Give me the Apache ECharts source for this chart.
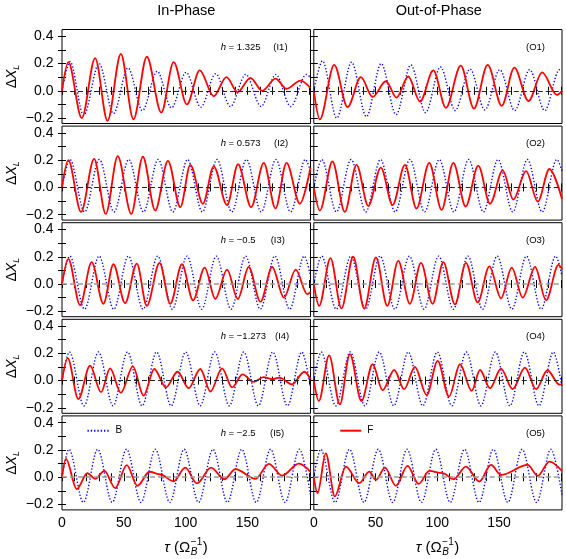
<!DOCTYPE html>
<html>
<head>
<meta charset="utf-8">
<script src="https://cdn.jsdelivr.net/npm/echarts@6/dist/echarts.min.js"></script>
<style>html,body{margin:0;padding:0;background:#fff}#c{width:566px;height:559px}</style>
</head>
<body>
<div id="c"></div>
<script>
// ---------------- data ----------------
const columnTitles = ['In-Phase', 'Out-of-Phase'];
const hLabels = ['1.325', '0.573', '\u22120.5', '\u22121.273', '\u22122.5'];
const inTags = ['(I1)', '(I2)', '(I3)', '(I4)', '(I5)'];
const outTags = ['(O1)', '(O2)', '(O3)', '(O4)', '(O5)'];
const xTickLabels = [0, 50, 100, 150];
const xMinorTicks = [0, 10, 20, 30, 40, 50, 60, 70, 80, 90, 100, 110, 120, 130, 140, 150, 160, 170, 180, 190, 200];
const yTickLabels = [-0.2, 0, 0.2, 0.4];
const yMinorTicks = [-0.2, -0.1, 0, 0.1, 0.2, 0.3, 0.4];

// B (blue, dotted) curves: extrema [tau, dX]
const blueI1 = [[0,0],[6.5,0.215],[17.5,-0.18],[30,0.2],[41.6,-0.167],[53.4,0.168],[65,-0.145],[77,0.143],[88.5,-0.125],[100.4,0.135],[112.2,-0.12],[124.3,0.125],[136.2,-0.115],[148.6,0.12],[161,-0.115],[173,0.12],[185,-0.115],[197.6,0.12],[201,0.1]];
const blueO1 = [[0,0],[7,0.22],[18.6,-0.2],[30.6,0.21],[42.6,-0.19],[54.6,0.2],[66.6,-0.175],[78.6,0.19],[90.5,-0.16],[102.6,0.175],[114.5,-0.145],[126.5,0.16],[138.5,-0.14],[150.6,0.155],[162.7,-0.145],[174.8,0.155],[187,-0.145],[199,0.155],[201,0.15]];
const blueRow2 = [[0,0],[6.4,0.205],[18.3,-0.18],[30.2,0.205],[42.1,-0.18],[54,0.205],[65.9,-0.18],[77.8,0.205],[89.7,-0.18],[101.6,0.205],[113.5,-0.18],[125.4,0.205],[137.3,-0.18],[149.2,0.205],[161.1,-0.18],[173,0.205],[184.9,-0.18],[196.8,0.205],[201,0.12]];
const blueRow3 = [[0,0],[6.3,0.205],[18.2,-0.185],[30,0.205],[41.9,-0.185],[53.7,0.205],[65.6,-0.185],[77.4,0.205],[89.3,-0.185],[101.1,0.205],[113,-0.185],[124.8,0.205],[136.7,-0.185],[148.5,0.205],[160.4,-0.185],[172.2,0.205],[184.1,-0.185],[195.9,0.205],[201,0.06]];
const blueRow4 = [[0,0],[6,0.21],[17.8,-0.185],[29.5,0.21],[41.3,-0.185],[53,0.21],[64.8,-0.185],[76.5,0.21],[88.3,-0.185],[100,0.21],[111.8,-0.185],[123.5,0.21],[135.3,-0.185],[147,0.21],[158.8,-0.185],[170.5,0.21],[182.3,-0.185],[194,0.21],[201,-0.05]];
const blueRow5 = [[0,0],[5.6,0.205],[17.3,-0.185],[28.9,0.205],[40.6,-0.185],[52.2,0.205],[63.9,-0.185],[75.5,0.205],[87.2,-0.185],[98.8,0.205],[110.5,-0.185],[122.1,0.205],[133.8,-0.185],[145.4,0.205],[157.1,-0.185],[168.7,0.205],[180.4,-0.185],[192,0.205],[201,-0.13]];

// F (red, solid) curves
const redI1 = [[0,0],[5.1,0.21],[16,-0.2],[26.8,0.24],[36.8,-0.22],[47.6,0.27],[57.8,-0.21],[68.6,0.25],[80.3,-0.16],[90.3,0.21],[101,-0.1],[111.4,0.15],[122.7,-0.04],[133,0.1],[142,-0.01],[152.4,0.095],[161.9,0.0],[172.7,0.09],[181.6,0.015],[193,0.075],[201,0.02]];
const redO1 = [[0,0],[4.9,-0.21],[16.5,0.19],[27.3,-0.12],[38.1,0.1],[47.6,-0.045],[58.4,0.07],[67,-0.05],[76.5,0.105],[86,-0.08],[96.8,0.15],[107,-0.125],[119,0.185],[129.7,-0.13],[140.8,0.19],[152.2,-0.11],[162.4,0.17],[173.8,-0.075],[184.9,0.135],[196.8,-0.03],[201,0.0]];
const redI2 = [[0,0],[5.1,0.2],[15.4,-0.18],[26,0.21],[35.4,-0.195],[45.1,0.23],[56,-0.195],[65.4,0.225],[75.4,-0.17],[85.7,0.195],[95.7,-0.145],[103.8,0.165],[114,-0.12],[122.7,0.155],[133.5,-0.13],[142.4,0.17],[153,-0.145],[163.2,0.18],[172.7,-0.155],[181.6,0.18],[192.4,-0.12],[201,0.145]];
const redO2 = [[0,0],[4.9,-0.17],[15.1,0.19],[25.1,-0.18],[34.6,0.165],[44.1,-0.135],[54.3,0.145],[63.8,-0.13],[73.8,0.165],[83.2,-0.155],[93.5,0.18],[103.5,-0.165],[113,0.18],[123,-0.14],[133.2,0.16],[142.7,-0.12],[153,0.125],[161.6,-0.09],[171.9,0.12],[181.4,-0.105],[190.8,0.135],[201,-0.085]];
const redI3 = [[0,0],[5.1,0.185],[14.6,-0.155],[24,0.16],[33.5,-0.145],[41.6,0.145],[51,-0.14],[60.5,0.15],[68.6,-0.16],[78.9,0.155],[87.6,-0.145],[97,0.145],[106,-0.12],[115.4,0.12],[124,-0.11],[133.5,0.105],[142.2,-0.11],[151,0.125],[160.5,-0.13],[170,0.125],[179.5,-0.1],[189,0.105],[198.4,-0.075],[201,-0.06]];
const redO3 = [[0,0],[4.3,-0.16],[13.5,0.19],[22.4,-0.18],[31.9,0.2],[40.8,-0.18],[50.3,0.195],[59.5,-0.16],[68.4,0.17],[77.8,-0.145],[86.8,0.155],[96.2,-0.145],[104.9,0.16],[114.3,-0.15],[123.2,0.155],[132.7,-0.135],[142.2,0.13],[151.6,-0.105],[160.3,0.12],[169.2,-0.1],[179.2,0.125],[188.1,-0.12],[198.1,0.14],[201,0.11]];
const redI4 = [[0,0],[4.6,0.165],[13.2,-0.135],[22.7,0.11],[31.6,-0.085],[38.9,0.09],[47.6,-0.09],[57.3,0.105],[66,-0.11],[74.6,0.085],[84,-0.05],[93.5,0.065],[102.4,-0.055],[111.9,0.085],[120,-0.08],[129.5,0.09],[137.6,-0.05],[146,0.045],[155,-0.01],[163,0.025],[170,0.01],[176,0.022],[186,-0.027],[196,0.065],[201,0.01]];
const redO4 = [[0,0],[4.1,-0.15],[12.4,0.185],[21.1,-0.175],[29.2,0.195],[38.6,-0.15],[47.6,0.12],[55.7,-0.07],[65.1,0.078],[73.2,-0.063],[81.9,0.1],[91.4,-0.107],[100.3,0.145],[109.5,-0.117],[118.4,0.12],[127.8,-0.076],[134.6,0.078],[142.7,-0.056],[151.6,0.088],[161,-0.063],[171,0.095],[180,-0.063],[189.2,0.076],[199,-0.03],[201,-0.025]];
const redI5 = [[0,0],[3.2,0.134],[11.9,-0.088],[20.5,0.03],[26.8,-0.012],[34.3,0.046],[43,-0.08],[52.4,0.088],[61,-0.063],[70.8,0.04],[79.5,0.02],[90.3,-0.03],[99.7,0.07],[109.2,-0.046],[120.5,0.07],[131.4,-0.015],[140.3,0.06],[156.5,-0.012],[167.3,0.098],[178,0.012],[191.6,0.1],[201,0.04]];
const redO5 = [[0,0],[3,-0.117],[9.7,0.175],[17,-0.14],[26,0.078],[36.8,-0.044],[44.9,0.041],[50.3,-0.02],[57.6,0.07],[66.5,-0.063],[75.9,0.083],[84.9,-0.049],[93.5,0.046],[104.3,0.03],[113.2,-0.015],[123.2,0.078],[134,-0.032],[143.5,0.09],[151.6,0.017],[173.2,0.09],[181.4,0.01],[190.8,0.115],[201,0.046]];

const panelBlue = [[blueI1, blueO1], [blueRow2, blueRow2], [blueRow3, blueRow3], [blueRow4, blueRow4], [blueRow5, blueRow5]];
const panelRed = [[redI1, redO1], [redI2, redO2], [redI3, redO3], [redI4, redO4], [redI5, redO5]];

// ---------------- layout / style ----------------
const FONT = '"Liberation Sans", Arial, Helvetica, sans-serif';
const colLeft = [62, 313.8];
const colWidth = [248.5, 248.2];
const TOP0 = 29.5, PITCH = 96.6, PH = 94;
const zeroColor = ['#222', '#222', '#999', '#222', '#999'];
const zeroWidth = [1, 1, 1.5, 1, 1.5];
const inTagX = [273.3, 274, 270.7, 275, 270];

const mctx = document.createElement('canvas').getContext('2d');
function tw(t, f) { mctx.font = f; return mctx.measureText(t).width; }
function fmtY(v) { return v < -1e-9 ? '\u2212' + Math.abs(v).toFixed(1) : Math.abs(v).toFixed(1); }

const grid = [], xAxis = [], yAxis = [], series = [], graphic = [];
let g = 0;
for (let r = 0; r < 5; r++) {
  for (let c = 0; c < 2; c++) {
    const top = TOP0 + PITCH * r;
    grid.push({left: colLeft[c], top: top, width: colWidth[c], height: PH, show: true,
      borderColor: '#000', borderWidth: 1, backgroundColor: 'transparent', containLabel: false, outerBoundsMode: 'none'});
    ['bottom', 'top'].forEach(function (pos) {
      xAxis.push({gridIndex: g, type: 'value', min: 0, max: 201, position: pos,
        axisLine: {show: false}, splitLine: {show: false},
        axisTick: {show: true, inside: true, length: 4, customValues: xMinorTicks, lineStyle: {color: '#000', width: 1}},
        axisLabel: {show: pos === 'bottom' && r === 4, customValues: xTickLabels, fontSize: 14, color: '#000',
          margin: 6.5, fontFamily: FONT}});
    });
    ['left', 'right'].forEach(function (pos) {
      yAxis.push({gridIndex: g, type: 'value', min: -0.24, max: 0.45, position: pos,
        axisLine: {show: false}, splitLine: {show: false},
        axisTick: {show: true, inside: true, length: 4, customValues: yMinorTicks, lineStyle: {color: '#000', width: 1}},
        axisLabel: {show: pos === 'left' && c === 0, customValues: yTickLabels, fontSize: 14, color: '#000',
          margin: 8.5, fontFamily: FONT, formatter: fmtY}});
    });
    series.push({type: 'line', name: 'B', xAxisIndex: 2 * g, yAxisIndex: 2 * g, data: panelBlue[r][c],
      smooth: 0.33, smoothMonotone: 'x', symbol: 'none', showSymbol: false, silent: true, clip: true, z: 3,
      lineStyle: {color: '#0000ff', width: 1.4, type: [1.3, 2]}, itemStyle: {color: '#0000ff'}});
    series.push({type: 'line', name: 'F', xAxisIndex: 2 * g, yAxisIndex: 2 * g, data: panelRed[r][c],
      smooth: 0.33, smoothMonotone: 'x', symbol: 'none', showSymbol: false, silent: true, clip: true, z: 4,
      lineStyle: {color: '#ff0000', width: 1.8}, itemStyle: {color: '#ff0000'},
      markLine: {silent: true, symbol: 'none', label: {show: false}, animation: false,
        lineStyle: {color: zeroColor[r], width: zeroWidth[r], type: [5, 3]}, data: [{yAxis: 0}]}});

    // annotations
    const ay = top + 17.5;
    if (c === 0) {
      graphic.push({type: 'text', x: 220.7, y: ay, silent: true, style: {
        text: '{i|h}{n| = ' + hLabels[r] + '}', fill: '#000', verticalAlign: 'middle', align: 'left',
        rich: {i: {fontStyle: 'italic', fontSize: 9.5, fontFamily: FONT, fill: '#000'},
               n: {fontSize: 9.5, fontFamily: FONT, fill: '#000'}}}});
      graphic.push({type: 'text', x: inTagX[r], y: ay, silent: true,
        style: {text: inTags[r], font: '9.5px ' + FONT, fill: '#000', verticalAlign: 'middle', align: 'left'}});
    } else {
      graphic.push({type: 'text', x: 526, y: ay, silent: true,
        style: {text: outTags[r], font: '9.5px ' + FONT, fill: '#000', verticalAlign: 'middle', align: 'left'}});
    }
    g++;
  }
  // y axis name  ΔX_L
  const cy = TOP0 + PITCH * r + PH / 2;
  const fB = '14px ' + FONT, fI = 'italic 14px ' + FONT, fS = 'italic 9px ' + FONT;
  const wD = tw('\u0394', fB), wX = tw('X', fI), wL = tw('L', fS);
  const x0 = -(wD + wX + wL) / 2;
  graphic.push({type: 'group', x: 12, y: cy, rotation: Math.PI / 2, silent: true, children: [
    {type: 'text', x: x0, y: 0, style: {text: '\u0394', font: fB, fill: '#000', align: 'left', verticalAlign: 'middle'}},
    {type: 'text', x: x0 + wD, y: 0, style: {text: 'X', font: fI, fill: '#000', align: 'left', verticalAlign: 'middle'}},
    {type: 'text', x: x0 + wD + wX, y: 4, style: {text: 'L', font: fS, fill: '#000', align: 'left', verticalAlign: 'middle'}}
  ]});
}

// column titles
graphic.push({type: 'text', x: 186.3, y: 10.5, silent: true, style: {text: columnTitles[0], font: '14.5px ' + FONT, fill: '#000', align: 'center', verticalAlign: 'middle'}});
graphic.push({type: 'text', x: 438.8, y: 10.5, silent: true, style: {text: columnTitles[1], font: '14.5px ' + FONT, fill: '#000', align: 'center', verticalAlign: 'middle'}});

// x axis names  τ (Ω_B^-1)
function xName(cx, cy) {
  const fM = '15px ' + FONT, fMi = 'italic 15px ' + FONT, fSb = 'italic 10px ' + FONT, fSp = '10px ' + FONT;
  const w1 = tw('\u03c4', fMi), w2 = tw(' (\u03a9', fM), wb = tw('B', fSb), wp = tw('\u22121', fSp), w4 = tw(')', fM);
  const wsx = Math.max(wb, wp) + 1;
  const s = cx - (w1 + w2 + wsx + w4) / 2;
  const st = function (t, f) { return {text: t, font: f, fill: '#000', align: 'left', verticalAlign: 'middle'}; };
  graphic.push({type: 'text', x: s, y: cy, silent: true, style: st('\u03c4', fMi)});
  graphic.push({type: 'text', x: s + w1, y: cy, silent: true, style: st(' (\u03a9', fM)});
  graphic.push({type: 'text', x: s + w1 + w2 + 0.5, y: cy + 4.5, silent: true, style: st('B', fSb)});
  graphic.push({type: 'text', x: s + w1 + w2 + 0.5, y: cy - 6, silent: true, style: st('\u22121', fSp)});
  graphic.push({type: 'text', x: s + w1 + w2 + wsx, y: cy, silent: true, style: st(')', fM)});
}
xName(186, 548);
xName(437.5, 548);

const legendCommon = {padding: 0, itemHeight: 12, selectedMode: false,
  itemStyle: {opacity: 0, color: 'transparent', borderColor: 'transparent', borderWidth: 0},
  textStyle: {fontSize: 10, color: '#000', fontFamily: FONT, padding: [0, 0, 0, 1]}};
const option = {
  animation: false,
  backgroundColor: '#fff',
  grid: grid, xAxis: xAxis, yAxis: yAxis, series: series, graphic: graphic,
  legend: [
    Object.assign({data: ['B'], left: 86.5, top: 425.7, itemWidth: 22}, legendCommon),
    Object.assign({data: ['F'], left: 339.3, top: 425.7, itemWidth: 21}, legendCommon)
  ]
};
const chart = echarts.init(document.getElementById('c'), null, {renderer: 'canvas', width: 566, height: 559});
chart.setOption(option);
</script>
</body>
</html>
